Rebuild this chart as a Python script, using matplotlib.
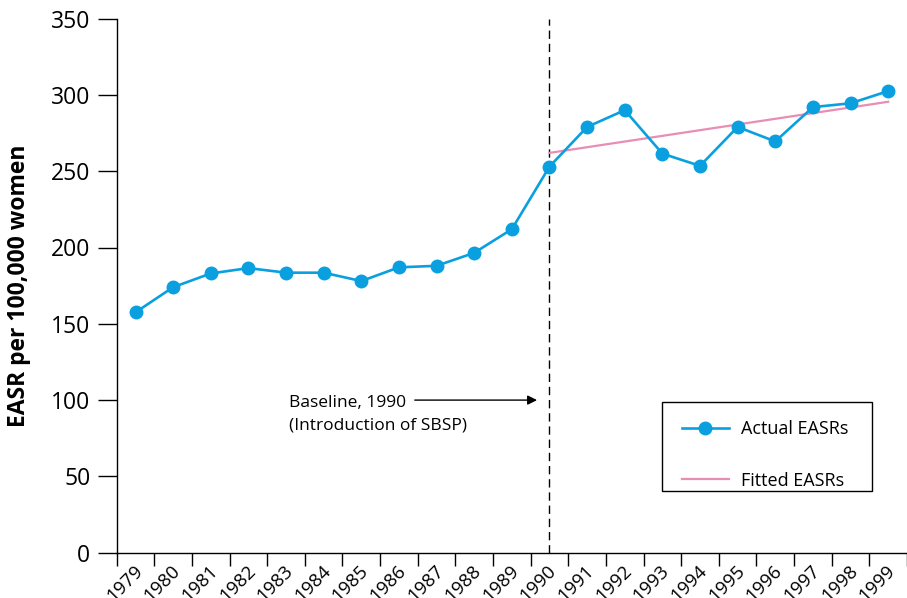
import numpy as np
import matplotlib
matplotlib.use("Agg")
import matplotlib.pyplot as plt
from matplotlib.patches import Rectangle
from matplotlib.transforms import ScaledTranslation

plt.rcParams['font.family'] = ['Open Sans', 'DejaVu Sans']

# data
years = list(range(1979, 2000))
actual = [157.5, 174, 183, 186.5, 183.5, 183.5, 178, 187, 188, 196.5, 212,
          253, 279, 290, 261.5, 253.5, 279, 269.5, 292, 294.5, 302.5]
fit_years = [1990, 1999]
fitted = [262, 295.5]
yticks = [0, 50, 100, 150, 200, 250, 300, 350]

BLUE = '#0aa0e0'
PINK = '#e88db4'

fig = plt.figure(figsize=(9.07, 5.98), dpi=100)
ax = fig.add_axes([116.7 / 907, 45.3 / 598, 790.3 / 907, 534.1 / 598])

idx = np.arange(len(years))
fit_idx = [years.index(y) for y in fit_years]

ax.plot(idx, actual, color=BLUE, lw=1.9, marker='o', ms=9,
        label='Actual EASRs', zorder=3)
ax.plot(fit_idx, fitted, color=PINK, lw=1.6, label='Fitted EASRs', zorder=2)

base = years.index(1990)
ax.axvline(base, color='black', lw=1, dashes=(6, 3.5), zorder=1)

ax.set_xlim(-0.5, 20.36)
ax.set_ylim(0, 350)
ax.set_yticks(yticks)
ax.tick_params(axis='y', labelsize=16.5, length=14, width=1, pad=5)

ax.set_xticks(idx)
ax.set_xticklabels([str(y) for y in years], rotation=45, ha='right',
                   va='center', rotation_mode='anchor', fontsize=13.5)
ax.set_xticks(np.arange(-0.5, 20.6, 1), minor=True)
ax.tick_params(axis='x', which='major', length=0, pad=11)
ax.tick_params(axis='x', which='minor', length=9, width=1)
shift = ScaledTranslation(3 / 72, 0, fig.dpi_scale_trans)
for lab in ax.get_xticklabels():
    lab.set_transform(lab.get_transform() + shift)

for s in ['top', 'right']:
    ax.spines[s].set_visible(False)
for s in ['left', 'bottom']:
    ax.spines[s].set_linewidth(1)

ax.set_ylabel('EASR per 100,000 women', fontsize=16.5, fontweight='bold',
              va='center')
ax.yaxis.set_label_coords(-0.124, 0.5)

# annotation
ax.annotate('', xy=(10.67, 100), xytext=(7.42, 100),
            arrowprops=dict(arrowstyle='-|>', color='black', lw=1,
                            mutation_scale=14, shrinkA=0, shrinkB=0))
ax.text(4.07, 95.7, 'Baseline, 1990', fontsize=12.5, va='baseline', ha='left')
ax.text(4.07, 81, '(Introduction of SBSP)', fontsize=12.5, va='baseline', ha='left')

# legend: frame drawn separately (text sits high in the box)
ax.add_patch(Rectangle((0.6896, 0.1155), 0.2664, 0.1672, transform=ax.transAxes,
                       facecolor='white', edgecolor='black', lw=1, zorder=4))
leg = ax.legend(loc='center left', bbox_to_anchor=(0.7153, 0.183),
                borderaxespad=0, borderpad=0, fontsize=13, handlelength=2.6,
                handletextpad=0.66, labelspacing=1.85, frameon=False)
leg.set_zorder(5)

fig.savefig('out.png', dpi=100)
